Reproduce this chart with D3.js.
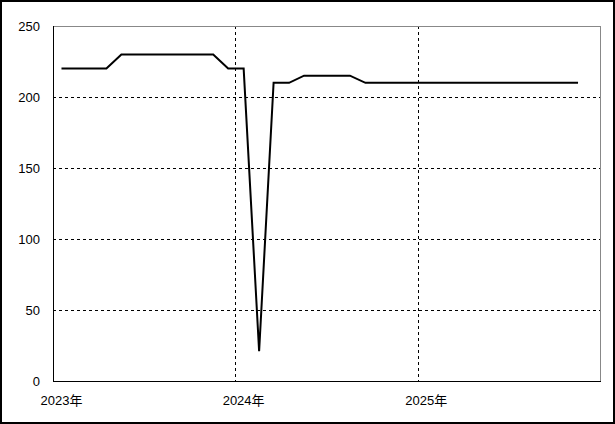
<!DOCTYPE html>
<html lang="ja">
<head>
    <meta charset="utf-8" />
    <title>chart</title>
    <script src="https://cdn.jsdelivr.net/npm/d3@7"></script>
    <style>
        body { margin: 0px; background: #fff; }
        text { font-family: "Liberation Sans", Arial, "Noto Sans CJK JP", sans-serif; font-size: 13px; fill: #000; }
    </style>
</head>
<body>
<svg id="chart" width="615" height="424"></svg>
<script>

    // 月ごとの値 (2023年1月 ～ 2025年11月)
    var startMonth = [2023, 0];
    var values = [
        220, 220, 220, 220, 230, 230, 230, 230, 230, 230, 230, 220,
        220, 21, 210, 210, 215, 215, 215, 215, 210, 210, 210, 210,
        210, 210, 210, 210, 210, 210, 210, 210, 210, 210, 210
    ];
    var yTicks = [0, 50, 100, 150, 200, 250];
    var xTickYears = [2023, 2024, 2025];
    var xTickLabels = ['2023年', '2024年', '2025年'];

    function main() {
        var svg = d3.select('#chart');
        var W = 615, H = 424;
        var left = 53, right = 600, top = 26, bottom = 381;

        // 外枠
        svg.append('rect')
            .attr('x', 1).attr('y', 1)
            .attr('width', W - 2).attr('height', H - 2)
            .style('fill', 'none').style('stroke', '#000').style('stroke-width', 2);

        var x = d3.scaleTime()
            .domain([new Date(2023, 0, 1), new Date(2026, 0, 1)])
            .range([left, right]);
        var y = d3.scaleLinear().domain([0, 250]).range([bottom, top]);

        var data = values.map(function(v, i) {
            return { date: new Date(startMonth[0], startMonth[1] + i, 18), value: v };
        });

        // グリッド
        var grid = svg.append('g').attr('class', 'grid').attr('shape-rendering', 'crispEdges');
        yTicks.filter(function(t) { return t > 0 && t < 250; }).forEach(function(t) {
            grid.append('line')
                .attr('x1', left).attr('x2', right)
                .attr('y1', Math.round(y(t)) + 0.5).attr('y2', Math.round(y(t)) + 0.5)
                .style('stroke', '#000').style('stroke-dasharray', '3,3');
        });
        xTickYears.filter(function(yr) { return yr > 2023; }).forEach(function(yr) {
            var px = Math.round(x(new Date(yr, 0, 1))) + 0.5;
            grid.append('line')
                .attr('x1', px).attr('x2', px)
                .attr('y1', top).attr('y2', bottom)
                .style('stroke', '#000').style('stroke-dasharray', '3,3');
        });

        // 枠 (上・右はグレー)
        var frame = svg.append('g').attr('shape-rendering', 'crispEdges');
        frame.append('line').attr('x1', left).attr('x2', right).attr('y1', top + 0.5).attr('y2', top + 0.5)
            .style('stroke', '#888');
        frame.append('line').attr('x1', right + 0.5).attr('x2', right + 0.5).attr('y1', top).attr('y2', bottom)
            .style('stroke', '#888');
        frame.append('line').attr('x1', left + 0.5).attr('x2', left + 0.5).attr('y1', top).attr('y2', bottom + 1)
            .style('stroke', '#000');
        frame.append('line').attr('x1', left).attr('x2', right + 1).attr('y1', bottom + 0.5).attr('y2', bottom + 0.5)
            .style('stroke', '#000');

        // 軸ラベル
        svg.append('g').selectAll('text')
            .data(yTicks)
            .enter().append('text')
            .attr('x', 40)
            .attr('y', function(d) { return y(d) + 5; })
            .attr('text-anchor', 'end')
            .text(function(d) { return d; });

        svg.append('g').selectAll('text')
            .data(xTickYears)
            .enter().append('text')
            .attr('x', function(d) { return x(new Date(d, 0, 1)) - 12.5; })
            .attr('y', 405)
            .attr('text-anchor', 'start')
            .text(function(d, i) { return xTickLabels[i]; });

        // 折れ線
        var line = d3.line()
            .x(function(d) { return x(d.date); })
            .y(function(d) { return y(d.value); });

        svg.append('path')
            .datum(data)
            .attr('d', line)
            .style('fill', 'none')
            .style('stroke', '#000')
            .style('stroke-width', 2)
            .style('stroke-linejoin', 'miter');
    }

    main();

</script>
</body>
</html>
